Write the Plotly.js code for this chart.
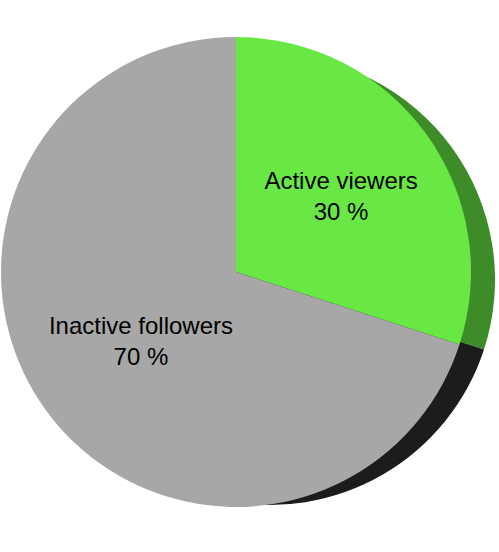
<!DOCTYPE html>
<html>
<head>
<meta charset="utf-8">
<script src="https://cdn.plot.ly/plotly-3.0.1.min.js"></script>
<style>html,body{margin:0;padding:0;background:#fff;}#chart{width:499px;height:552px;}</style>
</head>
<body>
<div id="chart"></div>
<script>
const categories = ["Active viewers", "Inactive followers"];
const shares = [30, 70];
const faceColors = ["#68e745", "#a7a7a7"];
const sideColors = ["#3d8b29", "#1b1c1b"];

const side = {
  type: "pie",
  labels: categories,
  values: shares,
  sort: false,
  direction: "clockwise",
  rotation: 0,
  textinfo: "none",
  hoverinfo: "skip",
  marker: {colors: sideColors, line: {width: 0}},
  domain: {x: [45 / 499, 495 / 499], y: [(552 - 505) / 552, (552 - 55) / 552]}
};

const face = {
  type: "pie",
  labels: categories,
  values: shares,
  sort: false,
  direction: "clockwise",
  rotation: 0,
  texttemplate: "%{label}<br>%{value} %",
  textposition: "inside",
  insidetextorientation: "horizontal",
  textfont: {family: "Liberation Sans, Arial, sans-serif", size: 24, color: "#000"},
  marker: {colors: faceColors, line: {width: 0}},
  domain: {x: [1 / 499, 471 / 499], y: [(552 - 507) / 552, (552 - 37) / 552]}
};

Plotly.newPlot("chart", [side, face], {
  width: 499,
  height: 552,
  margin: {l: 0, r: 0, t: 0, b: 0},
  paper_bgcolor: "#fff",
  showlegend: false
}, {displayModeBar: false, staticPlot: true});
</script>
</body>
</html>
